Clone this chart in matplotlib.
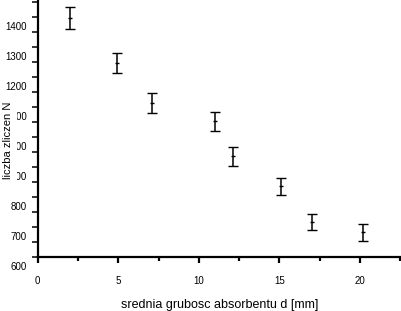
import numpy as np
import matplotlib
matplotlib.use("Agg")
import matplotlib.pyplot as plt
from matplotlib.transforms import ScaledTranslation
from matplotlib.ticker import MultipleLocator

plt.rcParams['font.family'] = ['Liberation Sans', 'DejaVu Sans']

# thickness d [mm], counts N, error
d = [2.0, 4.9, 7.1, 11.0, 12.1, 15.1, 17.0, 20.2]
N = [1395, 1245, 1113, 1052, 935, 835, 715, 681]
err = [37, 34, 33, 32, 32, 28, 26, 27]

fig = plt.figure(figsize=(4.02, 3.11), dpi=100)
ax = fig.add_axes([0.0938, 0.1746, 1 - 0.0938, 1 - 0.1746])

ax.errorbar(d, N, yerr=err, fmt='_', color='black', ms=3, mew=1,
            elinewidth=1.1, capsize=3.3, capthick=1.1)

ax.set_xlim(0, 22.6)
ax.set_ylim(600, 1456)
ax.xaxis.set_major_locator(MultipleLocator(5))
ax.xaxis.set_minor_locator(MultipleLocator(2.5))
ax.yaxis.set_major_locator(MultipleLocator(100))
ax.yaxis.set_minor_locator(MultipleLocator(50))

for s in ['top', 'right']:
    ax.spines[s].set_visible(False)
for s in ['left', 'bottom']:
    ax.spines[s].set_linewidth(1.6)

ax.tick_params(axis='x', which='major', direction='out', length=4, width=1.6,
               pad=10, labelsize=7)
ax.tick_params(axis='x', which='minor', direction='out', length=3, width=1.6)
ax.tick_params(axis='y', which='both', direction='out', length=4.5, width=1.1,
               pad=3.2, labelsize=7)

fig.canvas.draw()
off = ScaledTranslation(0, -9 / 100, fig.dpi_scale_trans)
for lab in ax.get_yticklabels():
    lab.set_transform(lab.get_transform() + off)

ax.set_xlabel('srednia grubosc absorbentu d [mm]', fontsize=9, labelpad=9)
fig.text(0.021, 0.548, 'liczba zliczen N', rotation=90, fontsize=8,
         ha='center', va='center',
         bbox=dict(facecolor='white', edgecolor='none', pad=2.5))

fig.savefig('out.png', dpi=100)
